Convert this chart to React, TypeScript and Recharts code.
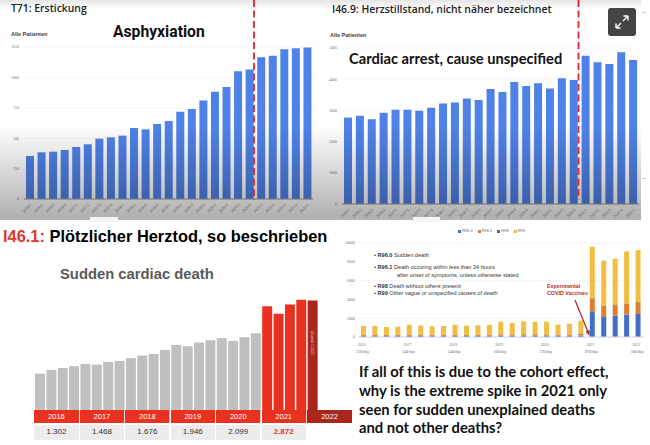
import React from "react";
import { BarChart, Bar, XAxis, YAxis, CartesianGrid, Cell, Legend } from "recharts";

// 25 quarters, 2016 Q1 to 2022 Q1
const quarters = [
  "2016/1", "2016/2", "2016/3", "2016/4",
  "2017/1", "2017/2", "2017/3", "2017/4",
  "2018/1", "2018/2", "2018/3", "2018/4",
  "2019/1", "2019/2", "2019/3", "2019/4",
  "2020/1", "2020/2", "2020/3", "2020/4",
  "2021/1", "2021/2", "2021/3", "2021/4",
  "2022/1",
];

const asphyxiation = [354, 384, 389, 403, 428, 450, 496, 507, 521, 584, 573, 617, 641, 718, 740, 811, 883, 921, 1050, 1064, 1165, 1179, 1231, 1239, 1245];
const cardiacArrest = [2772, 2825, 2718, 2921, 3017, 3017, 2985, 3081, 3220, 3252, 3380, 3337, 3689, 3593, 3913, 3785, 3870, 3700, 4030, 3977, 4755, 4542, 4488, 4862, 4616];
const suddenCardiac = [300, 323, 335, 346, 360, 356, 373, 379, 397, 412, 422, 447, 478, 470, 493, 507, 520, 503, 526, 551, 718, 671, 729, 758, 753];

const r960 = [100, 100, 95, 100, 105, 105, 100, 105, 110, 105, 105, 110, 120, 120, 130, 130, 120, 115, 120, 150, 2660, 2130, 2270, 2380, 2450];
const r961 = [70, 70, 65, 70, 75, 70, 70, 70, 75, 70, 70, 75, 80, 80, 90, 90, 80, 75, 80, 100, 1420, 1170, 1170, 1170, 1240];
const r98 = [50, 50, 50, 50, 50, 50, 50, 50, 50, 50, 50, 50, 60, 60, 60, 60, 60, 60, 60, 70, 40, 30, 30, 30, 30];
const r99 = [950, 950, 850, 880, 1080, 975, 910, 945, 1075, 975, 1015, 1045, 1370, 1230, 1390, 1320, 1370, 1060, 1160, 1420, 5490, 4790, 4860, 5530, 5530];

const yearTicks = ["2016", "2017", "2018", "2019", "2020", "2021", "2022"];
const perDay = ["130/day", "140/day", "140/day", "160/day", "170/day", "870/day", "100/day"];

const bandYears = ["2016", "2017", "2018", "2019", "2020", "2021"];
const yearTotals = ["1.302", "1.468", "1.676", "1.946", "2.099", "2.872"];

const asphyxiationData = quarters.map((q, i) => ({ q, value: asphyxiation[i] }));
const cardiacData = quarters.map((q, i) => ({ q, value: cardiacArrest[i] }));
const suddenData = quarters.map((q, i) => ({ q, value: suddenCardiac[i] }));
const stackedData = quarters.map((q, i) => ({ q, "R96.0": r960[i], "R96.1": r961[i], R98: r98[i], R99: r99[i] }));

const SANS = "'Open Sans', sans-serif";
const LATO = "Lato, sans-serif";
const ARIAL = "'Liberation Sans', sans-serif";
const BLUE = "#4f82e8";

function Txt({ x, y, size, weight = 400, color = "#111", font = SANS, children }: any) {
  return (
    <div style={{ position: "absolute", left: x, top: y, fontSize: size, fontWeight: weight, color, fontFamily: font, whiteSpace: "nowrap", lineHeight: 1 }}>
      {children}
    </div>
  );
}

function QuarterChart({ left, top, width, height, axis, data, domain, ticks }: any) {
  return (
    <div style={{ position: "absolute", left, top }}>
      <BarChart width={width} height={height} data={data} margin={{ top: 7, right: 0, bottom: 0, left: 0 }}>
        <CartesianGrid vertical={false} stroke="#eeeeee" strokeWidth={0.6} />
        <XAxis dataKey="q" interval={0} height={21} angle={-45} textAnchor="end" tick={{ fontSize: 4, fill: "#777" }} tickLine={false} tickSize={2} stroke="#9a9a9a" />
        <YAxis width={axis} domain={domain} ticks={ticks} tick={{ fontSize: 4, fill: "#777" }} axisLine={false} tickLine={false} tickSize={3} />
        <Bar dataKey="value" fill={BLUE} barSize={8} isAnimationActive={false} />
      </BarChart>
    </div>
  );
}

function YearTick({ x, y, index }: any) {
  const k = index / 4;
  if (!Number.isInteger(k)) return null;
  return (
    <g>
      <text x={x - 2} y={y + 1} fontSize={4} fill="#777" textAnchor="middle">{yearTicks[k]}</text>
      <text x={x - 1} y={y + 8} fontSize={4} fill="#666" textAnchor="middle">{perDay[k]}</text>
    </g>
  );
}

function TightLegend({ payload }: any) {
  return (
    <div style={{ display: "flex", justifyContent: "center", gap: 5, fontSize: 4, color: "#666", fontFamily: ARIAL, lineHeight: "6px", paddingLeft: 4 }}>
      {(payload || []).map((p: any) => (
        <span key={p.value} style={{ display: "flex", alignItems: "center", gap: 1 }}>
          <i style={{ width: 3, height: 3, background: p.color, display: "inline-block" }} />
          {p.value}
        </span>
      ))}
    </div>
  );
}

export default function App() {
  const band = (i: number) => 34.3 + i * 45.45;
  return (
    <div style={{ position: "absolute", left: 0, top: 0, width: 650, height: 445, overflow: "hidden", background: "#fff" }}>
      {/* top panels */}
      <QuarterChart left={0} top={40} width={313} height={180} axis={24} data={asphyxiationData} domain={[0, 1250]} ticks={[0, 250, 500, 750, 1000, 1250]} />
      <QuarterChart left={320} top={41} width={319} height={184} axis={22} data={cardiacData} domain={[0, 5000]} ticks={[0, 1000, 2000, 3000, 4000, 5000]} />
      <div style={{ position: "absolute", left: 0, top: 0, width: 641, height: 220, background: "linear-gradient(rgba(0,0,0,.1) 0, rgba(0,0,0,0) 9px, rgba(0,0,0,0) 125px, rgba(0,0,0,.3) 215px)" }} />

      <Txt x={11} y={3} size={10.4} weight={600} color="#222">T71: Erstickung</Txt>
      <Txt x={113} y={24} size={15.7} weight={700} font="Roboto, sans-serif">Asphyxiation</Txt>
      <Txt x={11} y={32} size={5.5} weight={700} color="#444" font={ARIAL}>Alle Patienten</Txt>
      <Txt x={332} y={4} size={10.4} weight={600} color="#222">I46.9: Herzstillstand, nicht näher bezeichnet</Txt>
      <Txt x={330} y={33} size={5.5} weight={700} color="#444" font={ARIAL}>Alle Patienten</Txt>
      <Txt x={349} y={51} size={14.7} weight={700} font={LATO}>Cardiac arrest, cause unspecified</Txt>
      <Txt x={642} y={7} size={7} color="#666">..</Txt>
      <Txt x={642} y={173} size={7} color="#666">..</Txt>

      <svg width={650} height={445} style={{ position: "absolute", left: 0, top: 0 }}>
        <line x1={254} y1={0} x2={254} y2={200} stroke="#e0262c" strokeWidth={1.8} strokeDasharray="7 3.5" />
        <line x1={578.5} y1={0} x2={578.5} y2={200} stroke="#e0262c" strokeWidth={1.8} strokeDasharray="7 3.5" />
        <rect x={608} y={8} width={28} height={28} rx={3} fill="#444" />
        <path d="M616 28 L621 23 M616 28 v-4.5 M616 28 h4.5 M628 16 L623 21 M628 16 v4.5 M628 16 h-4.5" stroke="#fff" strokeWidth={1.4} fill="none" />
      </svg>

      <div style={{ position: "absolute", left: 90, top: 217, width: 28, height: 5, background: "#f4f4f4" }} />
      <div style={{ position: "absolute", left: 413, top: 217, width: 27, height: 5, background: "#f4f4f4" }} />

      {/* sudden cardiac death */}
      <div style={{ position: "absolute", left: 0, top: 285 }}>
        <BarChart width={318} height={140} data={suddenData} margin={{ top: 8, right: 0, bottom: 3, left: 34 }}>
          <XAxis dataKey="q" hide />
          <YAxis hide domain={[0, 800]} />
          <Bar dataKey="value" barSize={10} isAnimationActive={false}>
            {suddenData.map((d, i) => (
              <Cell key={d.q} fill={i < 20 ? "#bfbfbf" : i < 24 ? "#e8321f" : "#a8261a"} />
            ))}
          </Bar>
        </BarChart>
      </div>
      <Txt x={3} y={228} size={16.4} weight={700} color="#000" font={ARIAL}>
        <span style={{ color: "#e0362c" }}>I46.1:</span> Plötzlicher Herztod, so beschrieben
      </Txt>
      <Txt x={60} y={267} size={14.8} weight={700} color="#595959" font={ARIAL}>Sudden cardiac death</Txt>
      {bandYears.map((y, i) => (
        <React.Fragment key={y}>
          <div style={{ position: "absolute", left: band(i), top: 410, width: 44.3, height: 13, background: "#e8321f", color: "#fff", fontFamily: ARIAL, fontSize: 7.5, lineHeight: "13px", textAlign: "center" }}>{y}</div>
          <div style={{ position: "absolute", left: band(i), top: 425, width: 44.3, height: 14.5, background: "#ececec", color: i === 5 ? "#e0362c" : "#333", fontWeight: i === 5 ? 700 : 400, fontFamily: ARIAL, fontSize: 8, lineHeight: "14.5px", textAlign: "center" }}>{yearTotals[i]}</div>
        </React.Fragment>
      ))}
      <div style={{ position: "absolute", left: 307, top: 410, width: 45, height: 13, background: "#a8261a", color: "#fff", fontFamily: ARIAL, fontSize: 7.5, lineHeight: "13px", textAlign: "center" }}>2022</div>
      <div style={{ position: "absolute", left: 306, top: 341, transform: "rotate(90deg)", transformOrigin: "center", width: 12, height: 4, color: "#f3d6d2", fontFamily: ARIAL, fontSize: 3.6, lineHeight: "4px", whiteSpace: "nowrap", display: "flex", justifyContent: "center" }}>Quartal 1 2022</div>

      {/* R96 / R98 / R99 */}
      <div style={{ position: "absolute", left: 335, top: 225 }}>
        <BarChart width={309} height={132} data={stackedData} margin={{ top: 3, right: 0, bottom: 0, left: 0 }}>
          <CartesianGrid vertical={false} stroke="#efefef" strokeWidth={0.6} />
          <XAxis dataKey="q" interval={0} height={20} tick={<YearTick />} tickLine={false} stroke="#d8d8d8" />
          <YAxis width={23} domain={[0, 10000]} ticks={[0, 2000, 4000, 6000, 8000, 10000]} tick={{ fontSize: 4, fill: "#777" }} axisLine={false} tickLine={false} tickSize={1} />
          <Legend verticalAlign="top" content={<TightLegend />} wrapperStyle={{ height: 15 }} />
          <Bar dataKey="R96.0" stackId="a" fill="#3f6fc6" barSize={5} isAnimationActive={false} />
          <Bar dataKey="R96.1" stackId="a" fill="#dd7f32" barSize={5} isAnimationActive={false} />
          <Bar dataKey="R98" stackId="a" fill="#6f6a60" barSize={5} isAnimationActive={false} />
          <Bar dataKey="R99" stackId="a" fill="#f2bd42" barSize={5} isAnimationActive={false} />
        </BarChart>
      </div>
      <svg width={650} height={445} style={{ position: "absolute", left: 0, top: 0 }}>
        <line x1={575} y1={300} x2={588} y2={332} stroke="#a82a24" strokeWidth={1.2} />
        <path d="M589.5 336 L585.6 331.6 L589.6 330 Z" fill="#a82a24" />
      </svg>

      <Txt x={374} y={253} size={5.6} color="#333" font={ARIAL}>• <b>R96.0</b> Sudden death</Txt>
      <Txt x={374} y={265} size={5.6} color="#333" font={ARIAL}>• <b>R96.1</b> Death occuring within less than 24 hours</Txt>
      <Txt x={397} y={273} size={5.6} color="#333" font={ARIAL}>after onset of symptoms, unless otherwise stated</Txt>
      <Txt x={374} y={284} size={5.6} color="#333" font={ARIAL}>• <b>R98</b> Death without others present</Txt>
      <Txt x={374} y={291} size={5.6} color="#333" font={ARIAL}>• <b>R99</b> Other vague or unspecified causes of death</Txt>
      <Txt x={547} y={284} size={5.3} weight={700} color="#b3302a" font={ARIAL}>Experimental</Txt>
      <Txt x={547} y={291} size={5.3} weight={700} color="#b3302a" font={ARIAL}>COVID Vaccines</Txt>

      <Txt x={359} y={364} size={14.8} weight={700} font={LATO}>If all of this is due to the cohort effect,</Txt>
      <Txt x={359} y={383} size={14.8} weight={700} font={LATO}>why is the extreme spike in 2021 only</Txt>
      <Txt x={359} y={402} size={14.8} weight={700} font={LATO}>seen for sudden unexplained deaths</Txt>
      <Txt x={359} y={420} size={14.8} weight={700} font={LATO}>and not other deaths?</Txt>
    </div>
  );
}
